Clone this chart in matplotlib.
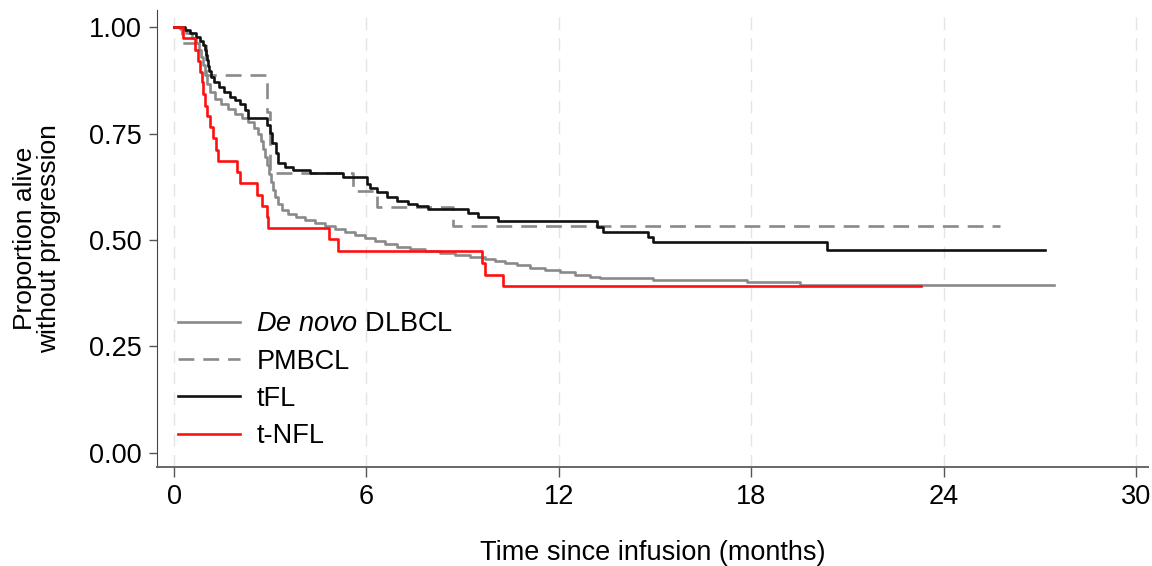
import matplotlib
matplotlib.use("Agg")
import matplotlib.pyplot as plt

plt.rcParams['font.family'] = ['Liberation Sans', 'DejaVu Sans']
plt.rcParams['mathtext.fontset'] = 'custom'
plt.rcParams['mathtext.rm'] = 'Liberation Sans'
plt.rcParams['mathtext.it'] = 'Liberation Sans:italic'

# Kaplan-Meier step points: event times (months) and survival after each event
dlbcl_t = [0, 0.19, 0.37, 0.56, 0.69, 0.78, 0.84, 0.90, 0.97, 1.03, 1.12, 1.28,
           1.47, 1.68, 1.90, 2.12, 2.31, 2.49, 2.62, 2.71, 2.78, 2.84, 2.90,
           2.96, 3.03, 3.09, 3.15, 3.24, 3.37, 3.55, 3.80, 4.08, 4.40, 4.71,
           5.02, 5.33, 5.64, 5.96, 6.27, 6.58, 6.95, 7.36, 7.83, 8.29, 8.76,
           9.23, 9.70, 10.01, 10.32, 10.70, 11.10, 11.57, 12.04, 12.50, 12.97,
           13.28, 14.94, 17.87, 19.52]
dlbcl_s = [1.0, 0.995, 0.986, 0.974, 0.962, 0.946, 0.930, 0.911, 0.887, 0.866,
           0.847, 0.831, 0.819, 0.808, 0.796, 0.786, 0.777, 0.763, 0.749, 0.732,
           0.714, 0.695, 0.676, 0.655, 0.636, 0.617, 0.601, 0.585, 0.570, 0.561,
           0.554, 0.547, 0.540, 0.533, 0.526, 0.519, 0.512, 0.505, 0.498, 0.491,
           0.484, 0.479, 0.474, 0.469, 0.465, 0.460, 0.455, 0.451, 0.446, 0.441,
           0.434, 0.430, 0.425, 0.418, 0.413, 0.411, 0.406, 0.401, 0.394]
dlbcl_end = 27.44

pmbcl_t = [0, 0.25, 1.00, 2.90, 3.00, 5.58, 6.33, 8.70]
pmbcl_s = [1.0, 0.962, 0.887, 0.800, 0.657, 0.615, 0.577, 0.533]
pmbcl_end = 25.76

tfl_t = [0, 0.34, 0.50, 0.69, 0.81, 0.90, 0.97, 1.00, 1.03, 1.06, 1.09, 1.15,
         1.25, 1.40, 1.56, 1.75, 1.90, 2.06, 2.21, 2.31, 2.90, 2.99, 3.06, 3.18,
         3.24, 3.46, 3.71, 4.24, 5.27, 6.02, 6.11, 6.33, 6.64, 6.95, 7.30, 7.58,
         7.92, 9.17, 9.48, 10.10, 13.19, 13.38, 14.78, 14.94, 20.36]
tfl_s = [1.0, 0.993, 0.986, 0.977, 0.967, 0.958, 0.946, 0.934, 0.923, 0.908,
         0.897, 0.883, 0.871, 0.859, 0.847, 0.836, 0.829, 0.819, 0.805, 0.786,
         0.770, 0.751, 0.728, 0.704, 0.681, 0.671, 0.664, 0.657, 0.648, 0.631,
         0.622, 0.613, 0.601, 0.592, 0.585, 0.580, 0.573, 0.563, 0.554, 0.545,
         0.531, 0.519, 0.507, 0.495, 0.477]
tfl_end = 27.16

tnfl_t = [0, 0.28, 0.65, 0.75, 0.81, 0.87, 0.90, 0.97, 1.03, 1.12, 1.22, 1.31,
          1.37, 1.96, 2.06, 2.59, 2.74, 2.90, 2.93, 4.83, 5.11, 9.60, 9.70, 10.26]
tnfl_s = [1.0, 0.974, 0.946, 0.920, 0.895, 0.870, 0.842, 0.815, 0.790, 0.765,
          0.740, 0.712, 0.686, 0.660, 0.634, 0.606, 0.580, 0.555, 0.528, 0.502,
          0.474, 0.446, 0.418, 0.392]
tnfl_end = 23.29

x_ticks = [0, 6, 12, 18, 24, 30]
y_ticks = [0.0, 0.25, 0.5, 0.75, 1.0]

fig = plt.figure(figsize=(11.52, 5.66), dpi=100)
ax = fig.add_axes([0.1363, 0.175, 0.8602, 0.8073])

for x in x_ticks:
    ax.axvline(x, color='#e4e4e4', lw=1.0, dashes=(9, 6), zorder=0)

def km(t, s, end, **kw):
    ax.step(list(t) + [end], list(s) + [s[-1]], where='post', **kw)

km(dlbcl_t, dlbcl_s, dlbcl_end, color='#8a8a8a', lw=1.9, label=r'$\it{De\ novo}$ DLBCL')
km(pmbcl_t, pmbcl_s, pmbcl_end, color='#8a8a8a', lw=1.9, dashes=(6, 3.4), label='PMBCL')
km(tfl_t, tfl_s, tfl_end, color='#111111', lw=1.9, label='tFL')
km(tnfl_t, tnfl_s, tnfl_end, color='#ff1010', lw=1.9, label='t-NFL')

ax.set_xlim(-0.53, 30.37)
ax.set_ylim(-0.033, 1.04)
ax.set_xticks(x_ticks)
ax.set_yticks(y_ticks)
ax.set_yticklabels(['%.2f' % v for v in y_ticks])

for side in ['top', 'right']:
    ax.spines[side].set_visible(False)
ax.spines['left'].set_color('#444444')
ax.spines['bottom'].set_color('#666666')
ax.spines['bottom'].set_linewidth(1.4)
ax.tick_params(axis='y', length=6, width=1, color='#555555', labelsize=19.5, pad=5)
ax.tick_params(axis='x', length=7, width=1, color='#555555', labelsize=19.5, pad=5)

ax.set_xlabel('Time since infusion (months)', fontsize=19.5, labelpad=22)
ax.set_ylabel('Proportion alive\nwithout progression', fontsize=19, labelpad=20,
              linespacing=1.0)

ax.legend(loc='upper left', bbox_to_anchor=(0.021, 0.341), frameon=False,
          fontsize=19.5, handlelength=2.3, handletextpad=0.6, labelspacing=0.42,
          borderpad=0, borderaxespad=0)

fig.savefig('out.png', dpi=100)
